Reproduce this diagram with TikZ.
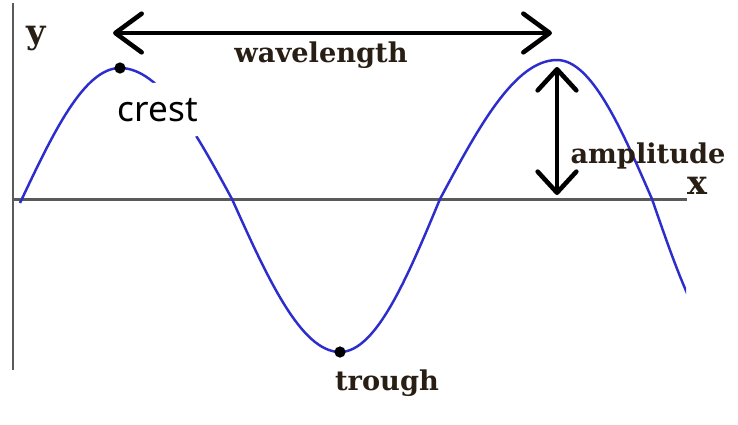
\documentclass[tikz,border=0pt]{standalone}
\usepackage{fontspec}
\setmainfont{DejaVu Serif}
\newfontfamily\crestfont{Noto Sans}
\usetikzlibrary{arrows.meta, positioning}
\definecolor{waveblue}{RGB}{45, 45, 205}
\definecolor{axisgray}{RGB}{90, 90, 90}
\definecolor{labelink}{RGB}{40, 30, 20}

\begin{document}
\begin{tikzpicture}[x=0.02cm, y=-0.02cm,
    axis/.style={draw=axisgray, line width=1.7pt},
    measure/.style={draw=black, line width=2.6pt},
    lbl/.style={text=labelink, font=\bfseries\fontsize{15.5}{18}\selectfont, inner sep=0pt, anchor=base}]
    \useasboundingbox[fill=white] (0,0) rectangle (738,424);
    % axes
    \coordinate (yTop) at (13,3);
    \coordinate (yBot) at (13,370);
    \coordinate (orig) at (13,199);
    \coordinate (xEnd) at (687,199);
    \draw[axis] (yTop) -- (yBot);
    \draw[axis] (orig) -- (xEnd);
    \node[lbl, font=\bfseries\fontsize{19}{22}\selectfont] (ylabel) at (36,43) {y};
    \node[lbl, font=\bfseries\fontsize{19}{22}\selectfont] (xlabel) at (697,194) {x};
    % the wave
    \coordinate (crest) at (120,68);
    \coordinate (trough) at (340,352);
    \coordinate (crest2) at (557,60);
    \begin{scope}
        \clip (0,0) rectangle (686,424);
        \draw[waveblue, line width=1.4pt] (20,203) sin (crest) cos (232,199)
            sin (trough) cos (440,199) sin (crest2) cos (652,199) sin (735,352);
    \end{scope}
    \fill (crest) circle[radius=3.2pt];
    \fill (trough) circle[radius=3.2pt];
    % measures
    \coordinate (wlLeft) at (113,33);
    \coordinate (wlRight) at (552,33);
    \draw[measure, {Straight Barb[length=15pt, width=22pt, round]}-{Straight Barb[length=15pt, width=22pt, round]}] (wlLeft) -- (wlRight);
    \node[lbl] (wavelength) at (321,62) {wavelength};
    \coordinate (ampTop) at (557,67);
    \coordinate (ampBot) at (557,195);
    \draw[measure, {Straight Barb[length=12pt, width=22pt, round]}-{Straight Barb[length=12pt, width=22pt, round]}] (ampTop) -- (ampBot);
    \node[lbl] (amplitude) at (648,163) {amplitude};
    \node[lbl] (troughlabel) at (387,390) {trough};
    \node[fill=white, rounded corners=14pt, minimum width=64pt, minimum height=31pt,
          font=\crestfont\fontsize{20}{23}\selectfont] (crestlabel) at (158,110) {crest};
\end{tikzpicture}
\end{document}
